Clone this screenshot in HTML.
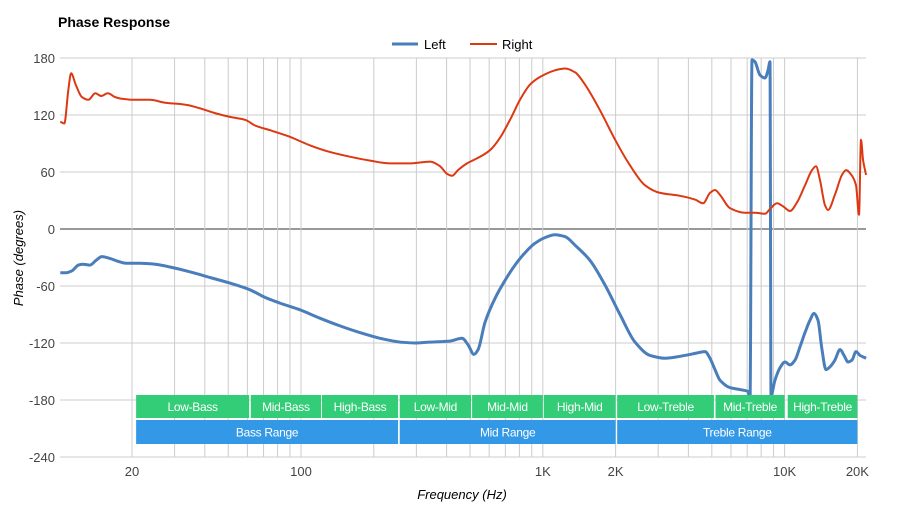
<!DOCTYPE html>
<html><head><meta charset="utf-8"><style>
body{margin:0;background:#fff;font-family:"Liberation Sans",sans-serif}
svg text{font-family:"Liberation Sans",sans-serif}
</style></head><body>
<svg id="c" width="900" height="520" xmlns="http://www.w3.org/2000/svg">
<text x="58" y="27" font-size="14" font-weight="bold" fill="#000">Phase Response</text>
<g>
<line x1="392" y1="44" x2="418" y2="44" stroke="#4a7ebb" stroke-width="3"/>
<text x="424" y="49" font-size="13">Left</text>
<line x1="470" y1="44" x2="497" y2="44" stroke="#dc3912" stroke-width="2"/>
<text x="502" y="49" font-size="13">Right</text>
</g>
<g id="grid"></g>
<g id="series"></g>
<g id="bands"></g>
<text x="0" y="0" transform="translate(23,258) rotate(-90)" text-anchor="middle" font-size="13" font-style="italic">Phase (degrees)</text>
<text x="462" y="499" text-anchor="middle" font-size="13" font-style="italic">Frequency (Hz)</text>
</svg>
<script>
const yTicks=[180,120,60,0,-60,-120,-180,-240];
const xTickVals=[20,100,1000,2000,10000,20000];
const xTickLabels=["20","100","1K","2K","10K","20K"];
const leftFreq=[10.1,10.7,11.3,12,12.5,13.4,14.2,15,16.2,17.5,18.9,21.6,24.9,28.7,34.7,42,50.8,61.5,71,81.8,99,120,145,175,212,257,296,342,413,463,491,519,540,577,634,698,767,844,928,1021,1123,1235,1359,1567,1808,2085,2405,2774,3200,3693,4260,4686,4913,5153,5402,5942,6540,7058,7195,7330,7540,7907,8294,8540,8700,8786,9125,9572,10037,10526,11040,11576,12144,12735,13228,13740,14270,14830,15410,16150,16940,17610,18290,19000,19730,20500,21720];
const leftPhase=[-46,-46,-44,-38,-37,-38,-33,-29,-31,-34,-36,-36,-37,-40,-45,-51,-57,-64,-72,-78,-85,-94,-102,-109,-115,-119,-120,-119,-118,-115,-122,-132,-127,-98,-73,-54,-38,-25,-15,-9,-6,-8,-17,-33,-59,-90,-119,-133,-136,-134,-131,-129,-136,-148,-159,-167,-169,-171,-180,178,176,162,159,167,176,-175,-159,-146,-140,-143,-138,-124,-109,-96,-89,-96,-127,-148,-145,-138,-127,-133,-140,-138,-129,-133,-136];
const rightFreq=[10.1,10.5,10.9,11.2,11.7,12.4,13.2,14.1,14.9,15.9,17,18.2,20.6,23.7,27.4,33.1,38.2,44.1,50.8,58.7,64.5,74.4,90,109,132,160,193,233,282,342,376,402,421,446,486,550,605,665,732,805,885,973,1123,1235,1359,1494,1724,1990,2294,2647,3054,3693,4260,4600,4913,5153,5402,5942,6855,7540,8294,8700,9302,9846,10526,11253,12144,12984,13490,14000,14690,15110,16150,17270,17940,19000,19730,20310,20700,21100,21720];
const rightPhase=[113,111,146,164,152,139,136,143,140,143,139,137,136,136,133,131,127,122,118,115,109,104,97,88,81,76,72,69,69,71,66,58,56,62,69,76,83,96,115,136,152,160,167,169,165,152,125,94,67,46,38,35,31,27,38,41,36,22,17,17,16,21,27,24,19,28,46,62,66,52,25,20,36,57,62,56,46,15,94,73,57];
const bandNames=["Low-Bass","Mid-Bass","High-Bass","Low-Mid","Mid-Mid","High-Mid","Low-Treble","Mid-Treble","High-Treble"];
const bandEdges=[20.8,61,62,121,122,252,256,505,510,1000,1010,2000,2030,5100,5180,10000,10300,20000];
const rangeNames=["Bass Range","Mid Range","Treble Range"];
const rangeEdges=[20.8,252,256,2000,2030,20000];

const X0=60,X1=866,Y0=58,Y1=457;
const x=f=>132+(Math.log10(f)-Math.log10(20))*241.8;
const y=d=>Y0+(180-d)/420*(Y1-Y0);
const NS="http://www.w3.org/2000/svg";
function mk(tag,attrs,parent){const e=document.createElementNS(NS,tag);for(const k in attrs)e.setAttribute(k,attrs[k]);parent.appendChild(e);return e;}
const grid=document.getElementById('grid');
yTicks.forEach(t=>{
 const l=mk('line',{x1:X0,x2:X1,y1:y(t),y2:y(t),stroke:t===0?'#333':'#ccc','stroke-width':1},grid);
 
 
 const tx=mk('text',{x:55,y:y(t)+5,'text-anchor':'end','font-size':13,fill:'#444'},grid);
 tx.textContent=t;
 
 
});
for(let dec=10;dec<=10000;dec*=10){for(let m=1;m<=9;m++){const f=dec*m;if(f<20||f>20000)continue;
 const l=mk('line',{x1:x(f),x2:x(f),y1:Y0,y2:Y1,stroke:'#ccc','stroke-width':1},grid);
 
 }}
xTickVals.forEach((f,i)=>{
 const tx=mk('text',{x:x(f),y:476,'text-anchor':'middle','font-size':13,fill:'#444'},grid);
 tx.textContent=xTickLabels[i];
 
 
});
// monotone-X cubic interpolation
function path(fr,ph){
 const px=fr.map(x),py=ph.map(y),n=px.length;
 const s=[],m=[];
 for(let i=0;i<n-1;i++)s.push((py[i+1]-py[i])/((px[i+1]-px[i])||1e-6));
 for(let i=0;i<n;i++){
  if(i===0)m.push(s[0]);else if(i===n-1)m.push(s[n-2]);
  else{const a=s[i-1],b=s[i];m.push(a*b<=0?0:(2*a*b)/(a+b));}
 }
 let d='M'+px[0].toFixed(1)+','+py[0].toFixed(1);
 for(let i=0;i<n-1;i++){
  const h=(px[i+1]-px[i])/3;
  d+='C'+(px[i]+h).toFixed(1)+','+(py[i]+m[i]*h).toFixed(1)+' '+(px[i+1]-h).toFixed(1)+','+(py[i+1]-m[i+1]*h).toFixed(1)+' '+px[i+1].toFixed(1)+','+py[i+1].toFixed(1);
 }
 return d;
}
const ser=document.getElementById('series');
const pl=mk('path',{d:path(leftFreq,leftPhase),fill:'none',stroke:'#4a7ebb','stroke-width':3,'stroke-linejoin':'round'},ser);


const pr=mk('path',{d:path(rightFreq,rightPhase),fill:'none',stroke:'#dc3912','stroke-width':2,'stroke-linejoin':'round'},ser);


const bands=document.getElementById('bands');
function band(names,edges,yy,h,col,nm){names.forEach((n,i)=>{
 const a=x(edges[2*i]),b=x(edges[2*i+1]);
 const r=mk('rect',{x:a,y:yy,width:b-a,height:h,fill:col},bands);
 
 
 const t=mk('text',{x:(a+b)/2,y:yy+h/2+4.5,'text-anchor':'middle','font-size':12,fill:'#fff','letter-spacing':'-0.3'},bands);
 t.textContent=n;
 
 
});}
band(bandNames,bandEdges,395,23,'#33cc77','frequency-band');
band(rangeNames,rangeEdges,420,24,'#3399e6','frequency-range');
</script>
</body></html>
